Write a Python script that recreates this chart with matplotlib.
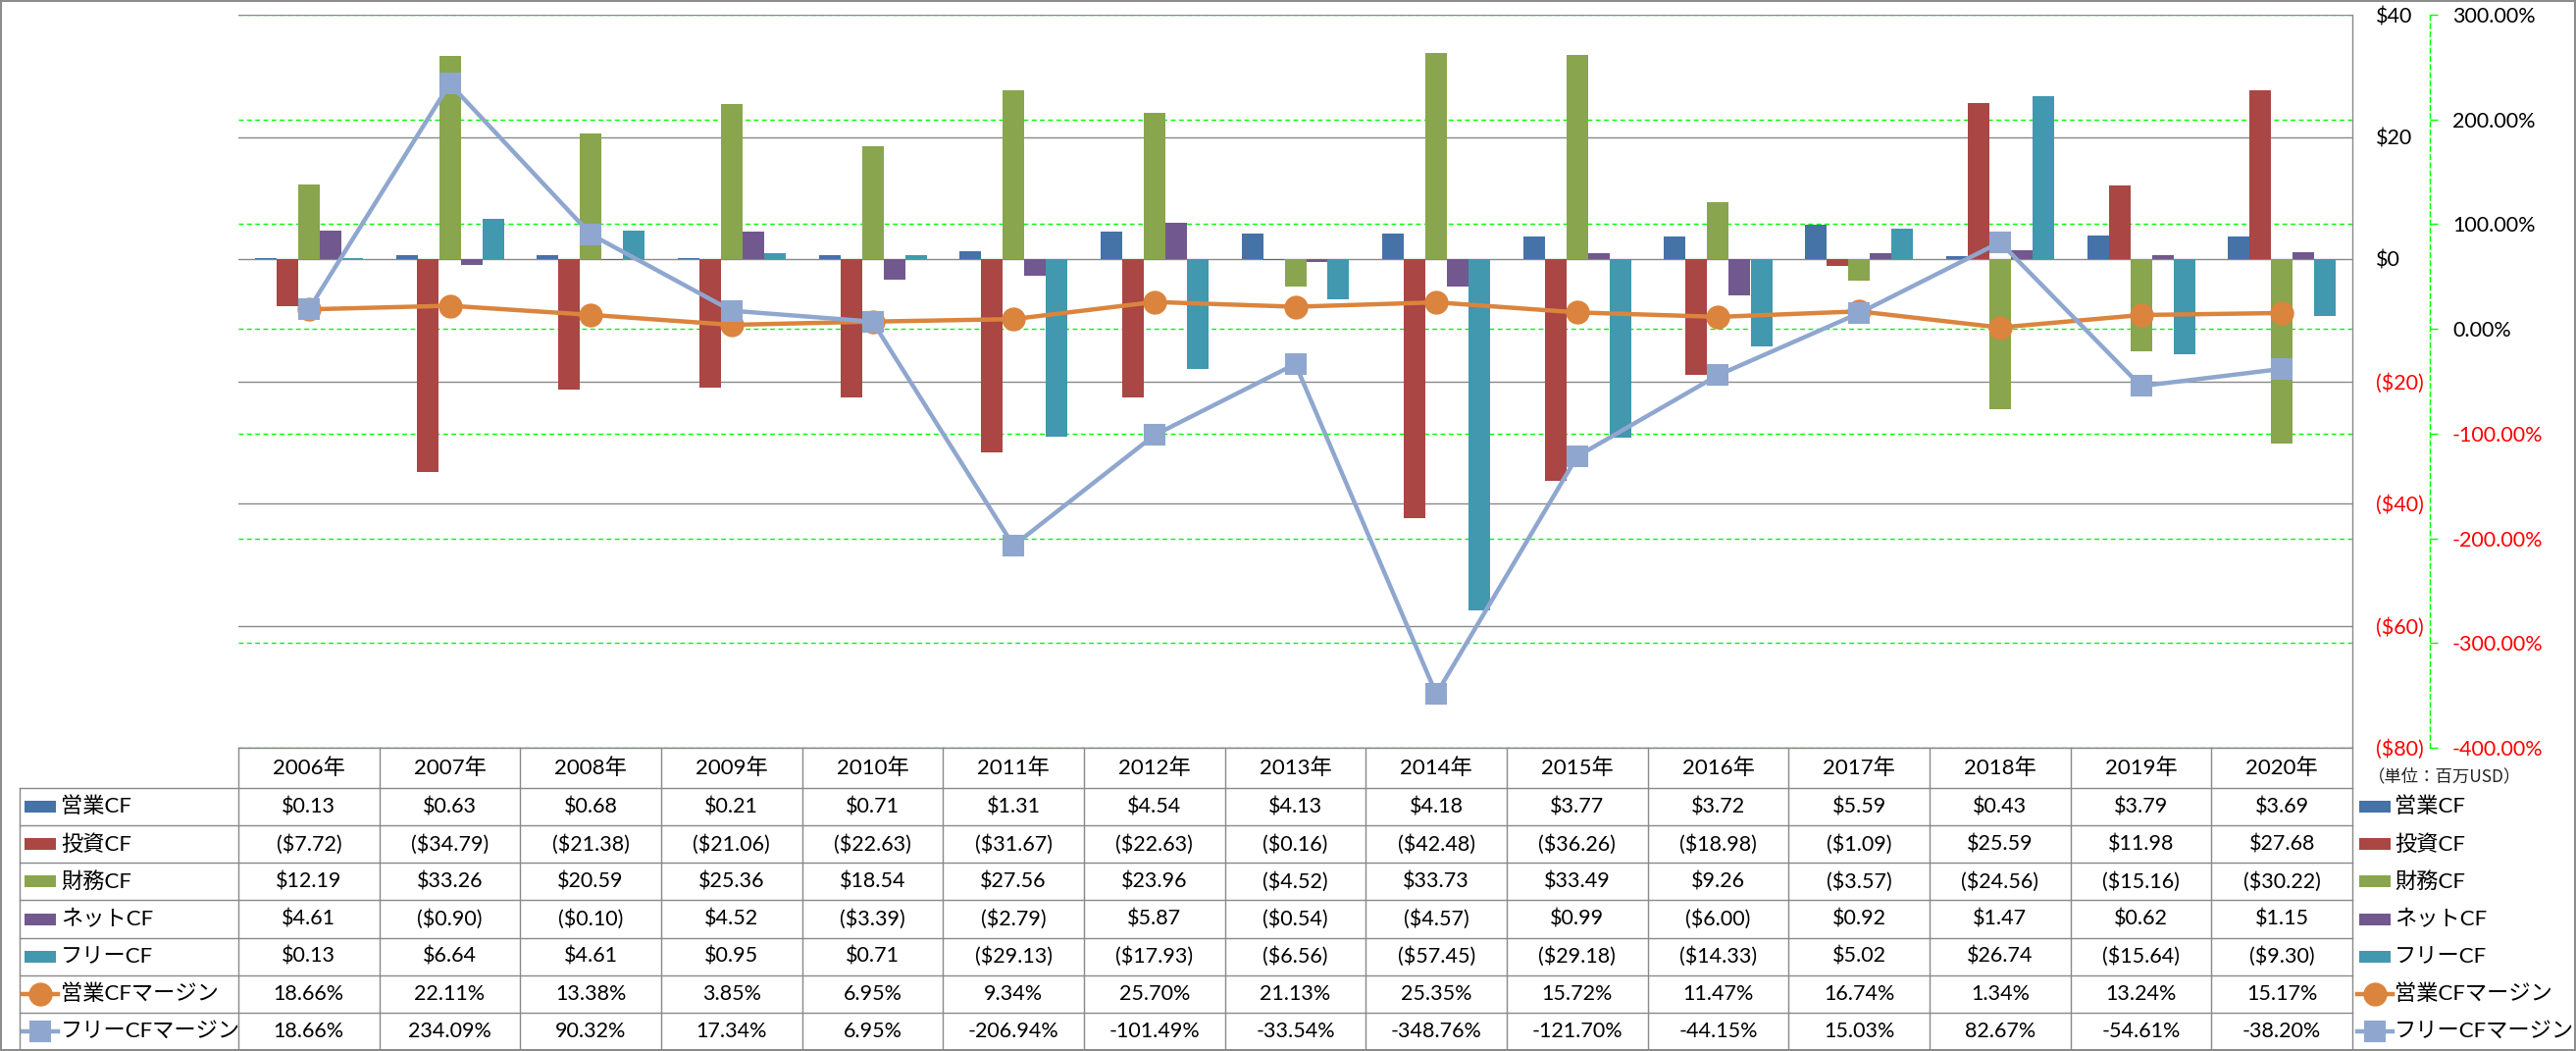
import matplotlib
matplotlib.use('Agg')
import matplotlib.pyplot as plt
import numpy as np
from matplotlib.patches import Rectangle
from matplotlib.lines import Line2D

# ---------------- data ----------------
years = ['2006年', '2007年', '2008年', '2009年', '2010年', '2011年', '2012年', '2013年',
         '2014年', '2015年', '2016年', '2017年', '2018年', '2019年', '2020年']
op_cf = [0.13, 0.63, 0.68, 0.21, 0.71, 1.31, 4.54, 4.13, 4.18, 3.77, 3.72, 5.59, 0.43, 3.79, 3.69]
inv_cf = [-7.72, -34.79, -21.38, -21.06, -22.63, -31.67, -22.63, -0.16, -42.48, -36.26, -18.98, -1.09, 25.59, 11.98, 27.68]
fin_cf = [12.19, 33.26, 20.59, 25.36, 18.54, 27.56, 23.96, -4.52, 33.73, 33.49, 9.26, -3.57, -24.56, -15.16, -30.22]
net_cf = [4.61, -0.90, -0.10, 4.52, -3.39, -2.79, 5.87, -0.54, -4.57, 0.99, -6.00, 0.92, 1.47, 0.62, 1.15]
free_cf = [0.13, 6.64, 4.61, 0.95, 0.71, -29.13, -17.93, -6.56, -57.45, -29.18, -14.33, 5.02, 26.74, -15.64, -9.30]
op_margin = [18.66, 22.11, 13.38, 3.85, 6.95, 9.34, 25.70, 21.13, 25.35, 15.72, 11.47, 16.74, 1.34, 13.24, 15.17]
free_margin = [18.66, 234.09, 90.32, 17.34, 6.95, -206.94, -101.49, -33.54, -348.76, -121.70, -44.15, 15.03, 82.67, -54.61, -38.20]

bar_names = ['営業CF', '投資CF', '財務CF', 'ネットCF', 'フリーCF']
line_names = ['営業CFマージン', 'フリーCFマージン']
primary_ticks = [-80, -60, -40, -20, 0, 20, 40]
secondary_ticks = [-400, -300, -200, -100, 0, 100, 200, 300]
unit_label = '（単位：百万USD）'

bar_series = [op_cf, inv_cf, fin_cf, net_cf, free_cf]
line_series = [op_margin, free_margin]
bar_colors = ['#4572A7', '#AA4643', '#89A54E', '#71588F', '#4198AF']
line_colors = ['#DB843D', '#8FA7CF']
line_markers = ['o', 's']

# ---------------- layout ----------------
W, H, DPI = 2626, 1071, 100
PX = 72.0 / DPI  # points per pixel
plt.rcParams['font.family'] = ['Lato', 'Noto Sans CJK JP', 'DejaVu Sans']
FS = 15.5
GRAY = '#898989'
GREEN = '#00FF00'
RED = '#FF0000'

fig = plt.figure(figsize=(W / DPI, H / DPI), dpi=DPI)
fig.patch.set_facecolor('white')

PL, PR, PT, PB = 243, 2398, 15, 762
rect = [PL / W, 1 - PB / H, (PR - PL) / W, (PB - PT) / H]
n = len(years)
x = np.arange(n)

# secondary grid axis (behind bars)
axg = fig.add_axes(rect, zorder=0)
axg.set_xlim(-0.5, n - 0.5)
axg.set_ylim(-400, 300)
axg.set_xticks([])
for s in ['left', 'top', 'bottom']:
    axg.spines[s].set_visible(False)
axg.spines['right'].set_position(('outward', 79 * PX))
axg.spines['right'].set_color(GREEN)
axg.spines['right'].set_linestyle((0, (3.5, 2.5)))
axg.spines['right'].set_linewidth(1.0)
axg.yaxis.tick_right()
axg.set_yticks(secondary_ticks, labels=[f'{v:.2f}%' for v in secondary_ticks])
axg.tick_params(axis='y', direction='out', length=8 * PX, color=GREEN, width=1,
                pad=15 * PX, labelsize=FS)
for lab, v in zip(axg.get_yticklabels(), secondary_ticks):
    lab.set_color(RED if v < 0 else 'black')
axg.yaxis.grid(True, color=GREEN, linestyle=(0, (3.5, 2.5)), linewidth=1.0)

# primary axis (bars)
ax = fig.add_axes(rect, zorder=1)
ax.patch.set_visible(False)
ax.set_xlim(-0.5, n - 0.5)
ax.set_ylim(-80, 40)
ax.set_xticks([])
for s in ['left', 'top', 'bottom', 'right']:
    ax.spines[s].set_visible(False)
ax.yaxis.tick_right()
ax.set_yticks(primary_ticks,
              labels=[(f'${v:.0f}' if v >= 0 else f'(${-v:.0f})') for v in primary_ticks])
ax.tick_params(axis='y', length=0, pad=24 * PX, labelsize=FS)
for lab, v in zip(ax.get_yticklabels(), primary_ticks):
    lab.set_color(RED if v < 0 else 'black')
ax.set_axisbelow(True)
ax.yaxis.grid(True, color=GRAY, linewidth=1.0)

bw = 22 / ((PR - PL) / n)
for k, (vals, col) in enumerate(zip(bar_series, bar_colors)):
    ax.bar(x + (k - 2) * bw, vals, width=bw, color=col, linewidth=0, zorder=2)

# lines on secondary scale
axl = fig.add_axes(rect, zorder=2)
axl.set_xlim(-0.5, n - 0.5)
axl.set_ylim(-400, 300)
axl.axis('off')
for vals, col, mk in zip(line_series, line_colors, line_markers):
    axl.plot(x, vals, color=col, linewidth=3.2, marker=mk,
             markersize=(16 if mk == 'o' else 15), markerfacecolor=col,
             markeredgecolor=col, markeredgewidth=1.5, clip_on=False,
             solid_joinstyle='round')

# ---------------- data table overlay ----------------
axt = fig.add_axes([0, 0, 1, 1], zorder=3)
axt.set_xlim(0, W)
axt.set_ylim(H, 0)
axt.axis('off')

col_edges = np.linspace(PL, PR, n + 1)
col_centers = (col_edges[:-1] + col_edges[1:]) / 2
hdr_top, hdr_bot, tbl_bot = PB, 803, 1070
row_edges = np.linspace(hdr_bot, tbl_bot, 8)
row_centers = (row_edges[:-1] + row_edges[1:]) / 2
LBL_L = 20

lw = 1.0
axt.plot([PL, PR], [hdr_top, hdr_top], color=GRAY, lw=lw)
for y in row_edges:
    axt.plot([LBL_L, PR], [y, y], color=GRAY, lw=lw)
axt.plot([LBL_L, LBL_L], [hdr_bot, tbl_bot], color=GRAY, lw=lw)
for xe in col_edges[:-1]:
    axt.plot([xe, xe], [hdr_top, tbl_bot], color=GRAY, lw=lw)
axt.plot([PR, PR], [PT, tbl_bot], color=GRAY, lw=lw)

for cx, yl in zip(col_centers, years):
    axt.text(cx, (hdr_top + hdr_bot) / 2, yl, ha='center', va='center', fontsize=FS + 0.5)


def money(v):
    return f'${v:.2f}' if v >= 0 else f'(${-v:.2f})'


def pct(v):
    return f'{v:.2f}%'


rows = [[money(v) for v in s] for s in bar_series] + [[pct(v) for v in s] for s in line_series]
for r, (cy, vals) in enumerate(zip(row_centers, rows)):
    for cx, t in zip(col_centers, vals):
        axt.text(cx, cy, t, ha='center', va='center', fontsize=FS)


def legend_key(x0, x1, cy, idx):
    if idx < 5:
        axt.add_patch(Rectangle((x0, cy - 6), x1 - x0, 12, facecolor=bar_colors[idx],
                                edgecolor='none'))
    else:
        j = idx - 5
        axt.add_line(Line2D([x0 - 2, x1 + 2], [cy, cy], color=line_colors[j], lw=3.2))
        axt.plot([(x0 + x1) / 2], [cy], marker=line_markers[j], markersize=(16 if j == 0 else 15),
                 color=line_colors[j], markeredgewidth=1.5)


names = bar_names + line_names
for i, (cy, nm) in enumerate(zip(row_centers, names)):
    legend_key(25, 57, cy, i)
    axt.text(62, cy, nm, ha='left', va='center', fontsize=FS + 0.5)
    legend_key(2405, 2437, cy, i)
    axt.text(2441, cy, nm, ha='left', va='center', fontsize=FS + 0.5)

axt.text(2414, 791, unit_label, ha='left', va='center', fontsize=12.5,
         family=['Noto Sans CJK JP', 'DejaVu Sans'], color='#222222')

# outer border
axt.add_patch(Rectangle((0.8, 0.8), W - 1.6, H - 1.6, facecolor='none', edgecolor=GRAY, lw=1.4))

fig.savefig('out.png', dpi=DPI, facecolor='white')
